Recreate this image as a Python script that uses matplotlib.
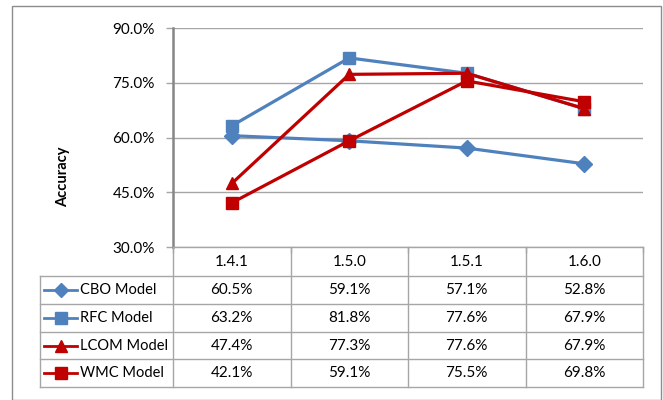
import matplotlib.pyplot as plt
from matplotlib.patches import Rectangle

versions = ["1.4.1", "1.5.0", "1.5.1", "1.6.0"]
cbo = [60.5, 59.1, 57.1, 52.8]
rfc = [63.2, 81.8, 77.6, 67.9]
lcom = [47.4, 77.3, 77.6, 67.9]
wmc = [42.1, 59.1, 75.5, 69.8]

series = [
    ("CBO Model", cbo, "#4F81BD", "D", 8),
    ("RFC Model", rfc, "#4F81BD", "s", 9),
    ("LCOM Model", lcom, "#C00000", "^", 9),
    ("WMC Model", wmc, "#C00000", "s", 9),
]

plt.rcParams['font.family'] = ['Lato', 'DejaVu Sans']
W, H = 663, 400
fig = plt.figure(figsize=(W / 100, H / 100), dpi=100)
grid_c = "#A6A6A6"

# outer frame
fig.patches.append(Rectangle((12 / W, 0), (661 - 12) / W, 1 - 6 / H, transform=fig.transFigure,
                             fill=False, edgecolor="#8C8C8C", linewidth=1.0))

x0, x1 = 173, 643
y_top, y_bot = 28, 247
ax = fig.add_axes([x0 / W, 1 - y_bot / H, (x1 - x0) / W, (y_bot - y_top) / H])
xs = range(len(versions))
for name, vals, col, mk, ms in series:
    ax.plot(xs, vals, color=col, marker=mk, markersize=ms, linewidth=2.3, clip_on=False, zorder=3)

ax.set_xlim(-0.5, len(versions) - 0.5)
ax.set_ylim(30, 90)
ax.set_yticks([30, 45, 60, 75, 90])
ax.set_yticklabels([f"{v:.1f}%" for v in [30, 45, 60, 75, 90]], fontsize=11)
ax.yaxis.grid(True, color=grid_c, linewidth=1.0)
ax.set_axisbelow(True)
ax.set_xticks([-0.5, 0.5, 1.5, 2.5, 3.5])
ax.set_xticklabels([])
ax.tick_params(axis='y', length=5, color=grid_c, width=1.0, pad=8)
ax.tick_params(axis='x', length=4, color=grid_c, width=1.0)
for s in ["top", "right"]:
    ax.spines[s].set_visible(False)
ax.spines["left"].set_color("#868686")
ax.spines["left"].set_linewidth(1.8)
ax.spines["bottom"].set_color(grid_c)
ax.spines["bottom"].set_linewidth(1.0)
fig.text(63 / W, 1 - 177 / H, "Accuracy", rotation=90, fontsize=10.5, fontweight="bold",
         ha="center", va="center")

# data table
t_left = 40
row_edges = [247, 276, 304, 332, 359, 387]
tax = fig.add_axes([0, 0, 1, 1])
tax.set_xlim(0, W)
tax.set_ylim(H, 0)
tax.axis("off")
col_w = (x1 - x0) / len(versions)
line_kw = dict(color=grid_c, linewidth=1.0)
# horizontal lines
for yy in row_edges[1:]:
    tax.plot([t_left, x1], [yy, yy], **line_kw)
# vertical lines
for i in range(len(versions) + 1):
    xx = x0 + i * col_w
    tax.plot([xx, xx], [row_edges[0], row_edges[-1]], **line_kw)
tax.plot([t_left, t_left], [row_edges[1], row_edges[-1]], **line_kw)

for i, v in enumerate(versions):
    tax.text(x0 + (i + 0.5) * col_w, (row_edges[0] + row_edges[1]) / 2, v,
             ha="center", va="center", fontsize=11)
for r, (name, vals, col, mk, ms) in enumerate(series):
    yc = (row_edges[r + 1] + row_edges[r + 2]) / 2
    tax.plot([44, 77], [yc, yc], color=col, linewidth=2.0)
    tax.plot([60.5], [yc], marker=mk, color=col, markersize=ms - 1, linestyle="none")
    tax.text(80, yc, name, ha="left", va="center", fontsize=10.5)
    for i, v in enumerate(vals):
        tax.text(x0 + (i + 0.5) * col_w, yc, f"{v:.1f}%", ha="center", va="center", fontsize=11)

fig.savefig("out.png", dpi=100)
